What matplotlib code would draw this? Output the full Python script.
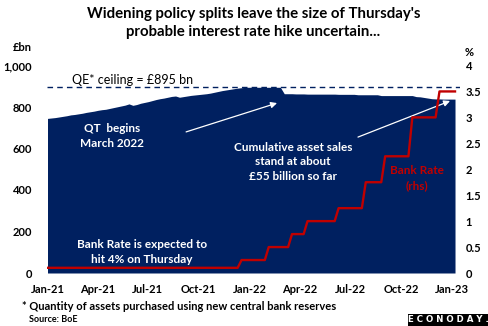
import pandas as pd
import matplotlib
matplotlib.use('Agg')
import matplotlib.pyplot as plt
import matplotlib.dates as mdates
from matplotlib.patches import Rectangle

plt.rcParams['font.family'] = ['Lato', 'DejaVu Sans']

# weekly stock of APF holdings, £bn (Fridays, Jan-21 to Jan-23)
weeks = pd.date_range('2021-01-01', '2023-01-06', freq='W-FRI')
apf = [745, 747, 749, 752, 755, 758, 762, 764, 767, 770, 774, 777, 780,
       784, 787, 789, 793, 797, 801, 805, 809, 815, 808, 812, 818, 822,
       826, 831, 836, 840, 843, 847, 851, 853, 847, 850, 853, 856, 858,
       860, 862, 864, 867, 871, 875, 879, 882, 885, 888, 891, 893, 895, 895,
       895, 895, 895, 895, 895, 895, 895, 895,
       864, 864, 864, 863, 863, 863, 862, 862, 862, 862, 862, 862, 862, 862,
       861, 861, 861, 861, 861,
       859, 859, 859, 859, 859, 859,
       855, 855, 855, 855, 855, 855, 855, 855, 855,
       850, 849, 846, 843,
       840, 839, 839, 838, 838, 838, 838]

# Bank Rate changes as drawn in the chart (date, new rate %)
rate_dates = pd.to_datetime(['2020-03-19', '2021-12-13', '2022-01-30', '2022-03-12',
                             '2022-04-10', '2022-06-10', '2022-07-28', '2022-08-31',
                             '2022-10-19', '2022-12-07'])
rate_vals = [0.1, 0.25, 0.5, 0.75, 1.0, 1.25, 1.75, 2.25, 3.0, 3.5]
qe_ceiling = 895

# weekly Bank Rate in force on each Friday
idx = rate_dates.searchsorted(weeks, side='right') - 1
bank_rate = [rate_vals[i] for i in idx]

navy = '#002060'
red = '#c00000'

fig = plt.figure(figsize=(4.89, 3.26), dpi=100)
ax = fig.add_axes([47.5 / 489, 1 - 273 / 326, (460 - 47.5) / 489, (273 - 65.5) / 326])

ax.fill_between(weeks, apf, 0, color=navy, lw=0)
ax.axhline(qe_ceiling, color=navy, ls=(0, (4, 3)), lw=1)
ax.set_ylim(0, 1000)
ax.set_xlim(pd.Timestamp('2021-01-01'), pd.Timestamp('2023-01-15'))
ax.set_yticks([0, 200, 400, 600, 800, 1000])
ax.set_yticklabels(['0', '200', '400', '600', '800', '1,000'])

ax2 = ax.twinx()
ax2.plot(weeks, bank_rate, color=red, lw=1.7)
ax2.set_ylim(0, 4)
ax2.set_yticks([0, 0.5, 1, 1.5, 2, 2.5, 3, 3.5, 4])
ax2.set_yticklabels(['0', '0.5', '1', '1.5', '2', '2.5', '3', '3.5', '4'])

ax.xaxis.set_major_locator(mdates.MonthLocator(bymonth=[1, 4, 7, 10]))
ax.xaxis.set_major_formatter(mdates.DateFormatter('%b-%y'))

for a in (ax, ax2):
    for s in a.spines.values():
        s.set_visible(False)
ax.tick_params(axis='y', length=0, pad=11, labelsize=8)
ax.tick_params(axis='x', length=0, pad=8, labelsize=8)
ax2.tick_params(axis='y', length=0, pad=4, labelsize=8)
for lab in ax.get_xticklabels() + ax.get_yticklabels() + ax2.get_yticklabels():
    lab.set_fontweight('bold')

fig.text(0.518, 1 - 23 / 326, "Widening policy splits leave the size of Thursday's\n"
         "probable interest rate hike uncertain...", ha='center', va='center',
         fontsize=10.8, fontweight='bold', linespacing=1.3)
fig.text(22.5 / 489, 1 - 47.5 / 326, '£bn', ha='center', va='center', fontsize=8, fontweight='bold')
fig.text(469 / 489, 1 - 53 / 326, '%', ha='center', va='center', fontsize=8, fontweight='bold')

ax.text(pd.Timestamp('2021-02-15'), 902, 'QE* ceiling = £895 bn', fontsize=9, ha='left', va='bottom')

# QT arrow
ax.annotate('', xy=(pd.Timestamp('2022-02-19'), 819), xytext=(pd.Timestamp('2021-09-08'), 680),
            arrowprops=dict(arrowstyle='-|>', color='white', lw=0.9, shrinkA=0, shrinkB=0,
                            mutation_scale=9))
ax.text(pd.Timestamp('2021-04-27'), 658, 'QT  begins\nMarch 2022', color='white', fontsize=8.5,
        fontweight='bold', ha='center', va='center', linespacing=1.45)

# asset sales arrow
ax.annotate('', xy=(pd.Timestamp('2022-12-28'), 829), xytext=(pd.Timestamp('2022-07-15'), 655),
            arrowprops=dict(arrowstyle='-|>', color='white', lw=0.9, shrinkA=0, shrinkB=0,
                            mutation_scale=9))
ax.text(pd.Timestamp('2022-03-20'), 536, 'Cumulative asset sales\nstand at about\n£55 billion so far',
        color='white', fontsize=8.5, fontweight='bold', ha='center', va='center', linespacing=1.4)

ax.text(pd.Timestamp('2021-06-20'), 101, 'Bank Rate is expected to\nhit 4% on Thursday',
        color='white', fontsize=8.5, fontweight='bold', ha='center', va='center', linespacing=1.45)
ax2.text(pd.Timestamp('2022-10-29'), 1.83, 'Bank Rate\n(rhs)', color=red, fontsize=8.5,
         fontweight='bold', ha='center', va='center', linespacing=1.45)

fig.text(22 / 489, 1 - 306 / 326, '* Quantity of assets purchased using new central bank reserves',
         ha='left', va='center', fontsize=8, fontweight='bold')
fig.text(29 / 489, 1 - 319 / 326, 'Source: BoE', ha='left', va='center', fontsize=6.5, fontweight='bold')

fig.patches.append(Rectangle((408 / 489, 0), 81 / 489, 12 / 326, transform=fig.transFigure,
                             facecolor='black', edgecolor='none'))
fig.text(448.5 / 489, 6 / 326, 'E C O N O D A Y .', ha='center', va='center', color='white',
         fontsize=6.2, fontweight='bold', family='DejaVu Sans')

fig.savefig('out.png', dpi=100)
